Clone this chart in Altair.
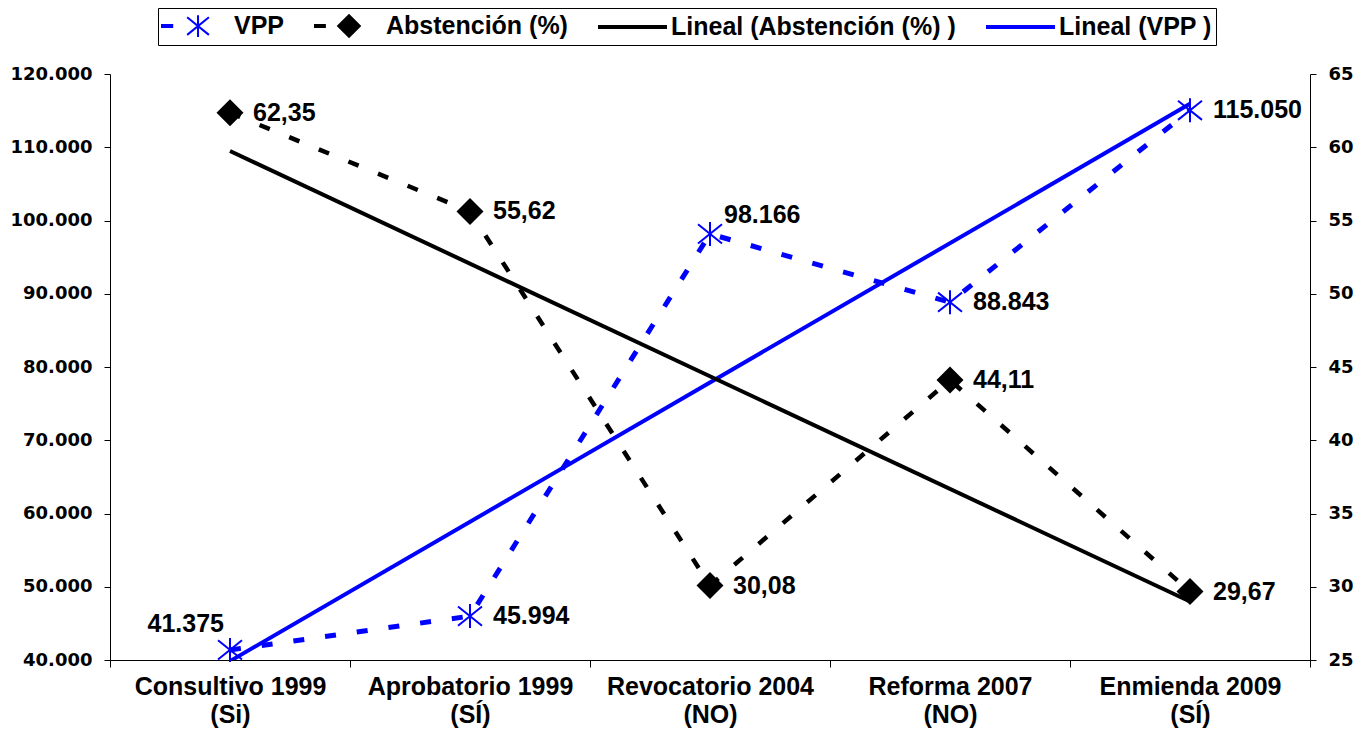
import json
import altair as alt
import pandas as pd

# ---------------- data ----------------
categories = [
    "Consultivo 1999|(Si)",
    "Aprobatorio 1999|(SÍ)",
    "Revocatorio 2004|(NO)",
    "Reforma 2007|(NO)",
    "Enmienda 2009|(SÍ)",
]
order_index = [1, 2, 3, 4, 5]
vpp = [41375, 45994, 98166, 88843, 115050]
abstencion = [62.35, 55.62, 30.08, 44.11, 29.67]

left_ticks = [40000, 50000, 60000, 70000, 80000, 90000, 100000, 110000, 120000]
right_ticks = [25, 30, 35, 40, 45, 50, 55, 60, 65]

series_names = ["VPP", "Abstención (%)", "Lineal (Abstención (%) )", "Lineal (VPP )"]
series_colors = ["#0000FF", "#000000", "#000000", "#0000FF"]

# ---------------- styles ----------------
BLUE = "#0000FF"
BLACK = "#000000"
FONT = "Liberation Sans"
TICKFONT = "DejaVu Sans"

ASTERISK = "M0,-1L0,1M-1,-0.8L1,0.8M-1,0.8L1,-0.8"
# legend symbols (unit = 13 px, symbol centre ~14 px from entry start)
LEG_VPP = ("M-1.077,-0.078L-0.292,-0.078L-0.292,0.078L-1.077,0.078Z"
           "M1.695,-0.837L1.695,0.837M0.858,-0.68L2.532,0.68M0.858,0.68L2.532,-0.68")
LEG_ABS = ("M-0.998,-0.078L-0.24,-0.078L-0.24,0.078L-0.998,0.078Z"
           "M0.78,0L1.617,-0.837L2.454,0L1.617,0.837Z")
LEG_TREND = "M-1.077,-0.078L4.075,-0.078L4.075,0.078L-1.077,0.078Z"
legend_shapes = [LEG_VPP, LEG_ABS, LEG_TREND, LEG_TREND]

df = pd.DataFrame({"cat": categories, "idx": order_index, "vpp": vpp, "abst": abstencion})
legend_df = pd.DataFrame({"serie": series_names})

x_enc = alt.X(
    "cat:N",
    sort=categories,
    scale=alt.Scale(type="band", domain=categories, paddingInner=0, paddingOuter=0),
    axis=alt.Axis(
        title=None, labelAngle=0, tickBand="extent", tickSize=7, tickColor=BLACK,
        domainColor=BLACK, grid=False, labelExpr="split(datum.label, '|')",
        labelFont=FONT, labelFontSize=25, labelFontWeight="bold", labelColor=BLACK,
        labelLineHeight=28, labelPadding=7, labelLimit=400, labelBaseline="top",
    ),
)

left_scale = alt.Scale(domain=[40000, 120000], nice=False, zero=False)
right_scale = alt.Scale(domain=[25, 65], nice=False, zero=False)

left_axis = alt.Axis(
    title=None, orient="left", values=left_ticks, grid=False, tickSize=6,
    tickColor=BLACK, domainColor=BLACK, labelFont=TICKFONT, labelFontSize=18,
    labelFontWeight="bold", labelColor=BLACK, labelPadding=12,
    labelExpr="replace(format(datum.value, ','), ',', '.')",
)
right_axis = alt.Axis(
    title=None, orient="right", values=right_ticks, grid=False, tickSize=6,
    tickColor=BLACK, domainColor=BLACK, labelFont=TICKFONT, labelFontSize=18,
    labelFontWeight="bold", labelColor=BLACK, labelPadding=12,
)

y_vpp = alt.Y("vpp:Q", scale=left_scale, axis=left_axis)
y_vpp_na = alt.Y("vpp:Q", scale=left_scale, axis=None)
y_abs = alt.Y("abst:Q", scale=right_scale, axis=right_axis)
y_abs_na = alt.Y("abst:Q", scale=right_scale, axis=None)

base = alt.Chart(df)

# dashed series + markers
vpp_line = base.mark_line(color=BLUE, strokeWidth=5, strokeDash=[11, 21]).encode(x=x_enc, y=y_vpp)
vpp_pts = base.mark_point(shape=ASTERISK, size=576, stroke=BLUE, strokeWidth=2,
                          filled=False, opacity=1).encode(x=x_enc, y=y_vpp)
g1 = alt.layer(vpp_line, vpp_pts)

abs_line = base.mark_line(color=BLACK, strokeWidth=4.5, strokeDash=[11, 21]).encode(x=x_enc, y=y_abs)
abs_pts = base.mark_point(shape="diamond", size=729, color=BLACK, filled=True,
                          opacity=1).encode(x=x_enc, y=y_abs)
g2 = alt.layer(abs_line, abs_pts)

# linear trend lines (regression computed by Vega)
cats_js = json.dumps(categories, ensure_ascii=False)
vpp_trend = (
    base.transform_regression("idx", "vpp", method="linear", extent=[1, 5])
    .transform_calculate(cat=f"{cats_js}[round(datum.idx) - 1]")
    .mark_line(color=BLUE, strokeWidth=4, clip=True)
    .encode(x=x_enc, y=y_vpp_na)
)
abs_trend = (
    base.transform_regression("idx", "abst", method="linear", extent=[1, 5])
    .transform_calculate(cat=f"{cats_js}[round(datum.idx) - 1]")
    .mark_line(color=BLACK, strokeWidth=4, clip=True)
    .encode(x=x_enc, y=y_abs_na)
)

# labels
txt = dict(font=FONT, fontSize=25, fontWeight="bold", color=BLACK)
vpp_fmt = "replace(format(datum.vpp, ','), ',', '.')"
abs_fmt = "replace(format(datum.abst, '.2f'), '.', ',')"
c0 = json.dumps(categories[0], ensure_ascii=False)
c2 = json.dumps(categories[2], ensure_ascii=False)

vpp_lab_main = (
    base.transform_filter(f"datum.cat != {c0} && datum.cat != {c2}")
    .transform_calculate(lab=vpp_fmt)
    .mark_text(align="left", baseline="middle", dx=23, **txt)
    .encode(x=x_enc, y=y_vpp_na, text="lab:N")
)
vpp_lab_first = (
    base.transform_filter(f"datum.cat == {c0}")
    .transform_calculate(lab=vpp_fmt)
    .mark_text(align="right", baseline="middle", dx=-6, dy=-26, **txt)
    .encode(x=x_enc, y=y_vpp_na, text="lab:N")
)
vpp_lab_third = (
    base.transform_filter(f"datum.cat == {c2}")
    .transform_calculate(lab=vpp_fmt)
    .mark_text(align="left", baseline="middle", dx=14, dy=-19, **txt)
    .encode(x=x_enc, y=y_vpp_na, text="lab:N")
)
g5 = alt.layer(vpp_lab_main, vpp_lab_first, vpp_lab_third)

g6 = (
    base.transform_calculate(lab=abs_fmt)
    .mark_text(align="left", baseline="middle", dx=23, **txt)
    .encode(x=x_enc, y=y_abs_na, text="lab:N")
)

# legend driver (invisible points)
leg = alt.Legend(
    orient="none", legendX=48, legendY=-66, direction="horizontal", columns=4,
    title=None, symbolSize=676, symbolOpacity=1, symbolStrokeWidth=2,
    labelFont=FONT, labelFontSize=25, labelFontWeight="bold", labelColor=BLACK,
    labelOffset=44, labelLimit=600, columnPadding=26, padding=4,
    strokeColor=BLACK, fillColor="white",
)
legend_layer = alt.Chart(legend_df).mark_point(opacity=0, strokeWidth=2).encode(
    fill=alt.Fill("serie:N", scale=alt.Scale(domain=series_names, range=series_colors), legend=leg),
    stroke=alt.Stroke("serie:N", scale=alt.Scale(domain=series_names, range=series_colors), legend=leg),
    shape=alt.Shape("serie:N", scale=alt.Scale(domain=series_names, range=legend_shapes), legend=leg),
)

chart = (
    alt.layer(g1, g2, vpp_trend, abs_trend, g5, g6, legend_layer)
    .resolve_scale(y="independent")
    .properties(
        width=1200, height=586,
        padding={"left": 102, "top": 66, "right": 50, "bottom": 68},
        autosize="none",
        background="white",
    )
    .configure_view(stroke=None)
    .configure_axis(grid=False)
)

chart.save("out.html", embed_options={"renderer": "svg", "actions": False})
